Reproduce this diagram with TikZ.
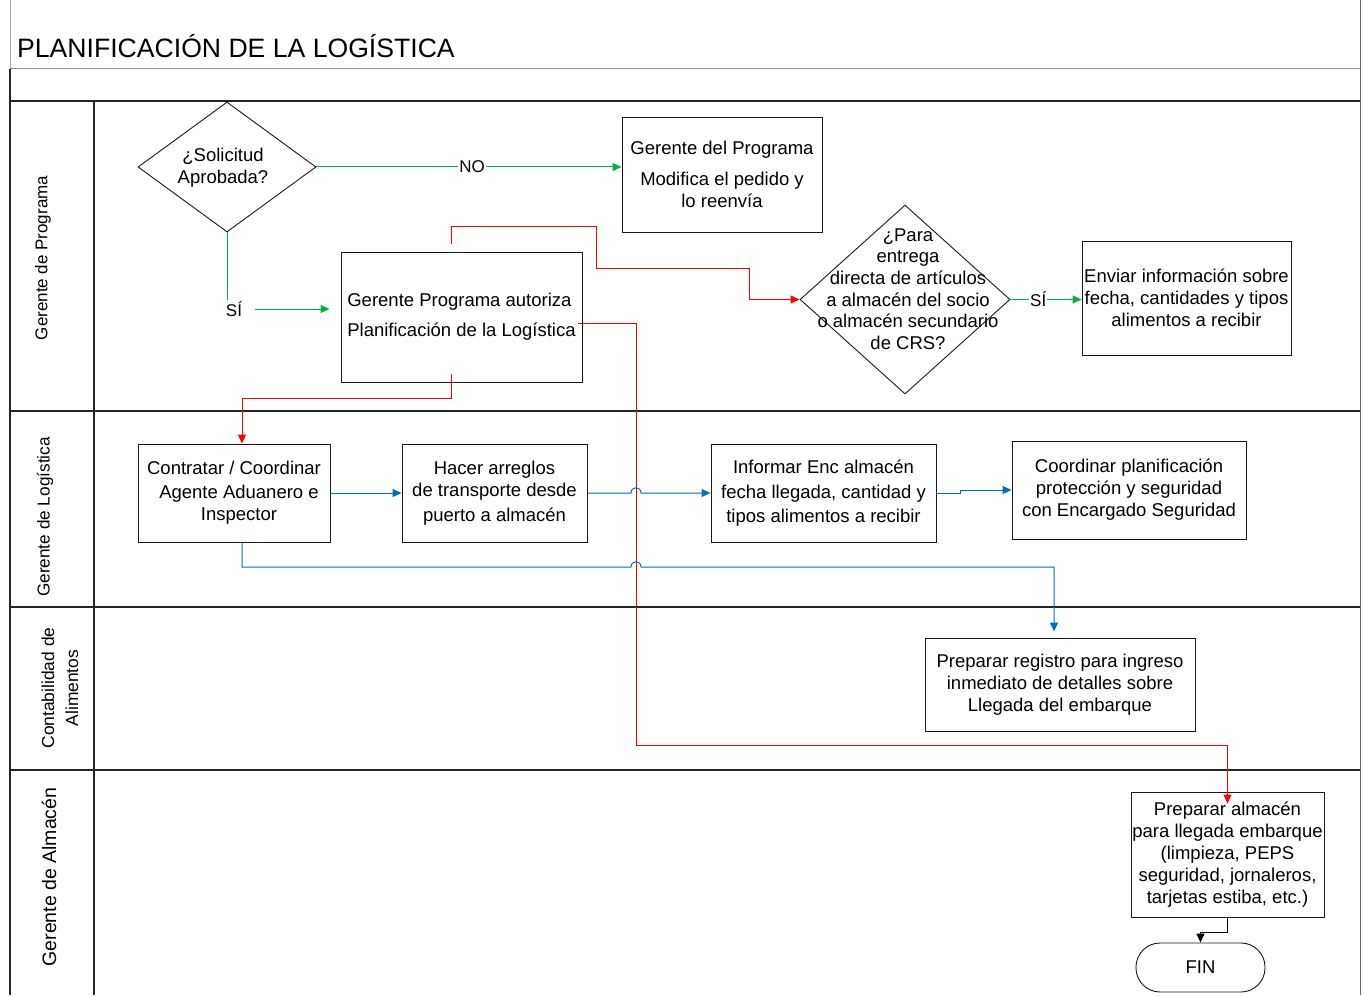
\documentclass[tikz,border=0pt]{standalone}
\usepackage{fontspec}
\setmainfont{Liberation Sans}
\usetikzlibrary{shapes.geometric,arrows.meta,calc}
\definecolor{fgreen}{RGB}{0,176,80}
\definecolor{fred}{RGB}{255,0,0}
\definecolor{fblue}{RGB}{0,112,192}
\newcommand{\bodyfont}{\fontsize{18.5}{22}\selectfont}
\begin{document}
\begin{tikzpicture}[x=1pt,y=-1pt,
  box/.style={draw=black!90, line width=0.9pt, inner sep=0pt, align=center, font=\bodyfont},
  dia/.style={draw=black!90, line width=0.9pt, shape=diamond, inner sep=0pt},
  txt/.style={inner sep=0pt, align=center, font=\bodyfont},
  lane/.style={inner sep=0pt, align=center, rotate=90},
  lbl/.style={fill=white, inner sep=1pt, font=\fontsize{17}{20}\selectfont},
  tip/.style={-{Triangle[length=9pt,width=8pt]}},
  gline/.style={draw=fgreen, line width=1pt, tip},
  rline/.style={draw=fred, line width=1pt, tip},
  bline/.style={draw=fblue, line width=1pt, tip},
  kline/.style={draw=black, line width=1pt, tip},
  sep/.style={draw=black!85, line width=1.2pt}]
\useasboundingbox (0,0) rectangle (1364,995);
% frame
\draw[draw=black!35, line width=0.8pt] (10,0) -- (10,69);
\draw[draw=black!60, line width=1pt] (1360,0) -- (1360,995);
\draw[draw=black!45, line width=1pt] (10,69) -- (1360,69);
\draw[sep] (10,101) -- (1360,101);
\draw[sep] (10,69) -- (10,995);
\draw[sep] (94,101) -- (94,995);
\draw[sep] (10,411) -- (1360,411);
\draw[sep] (10,607) -- (1360,607);
\draw[sep] (10,770) -- (1360,770);
% title
\node[anchor=base west, inner sep=0pt, font=\fontsize{26.6}{30}\selectfont] (title) at (17,58) {PLANIFICACIÓN DE LA LOGÍSTICA};
% lane labels
\node[lane, font=\fontsize{17}{20}\selectfont] (l1) at (43,258) {Gerente de Programa};
\node[lane, font=\fontsize{17.2}{20}\selectfont] (l2) at (45,517) {Gerente de Logística};
\node[lane, font=\fontsize{17.4}{24}\selectfont] (l3) at (60,688) {Contabilidad de\\Alimentos};
\node[lane, font=\fontsize{19.5}{22}\selectfont] (l4) at (49,877) {Gerente de Almacén};
% lane 1
\node[dia, minimum width=178pt, minimum height=130pt] (d1) at (227,167) {};
\node[txt] (d1t) at (223,168) {¿Solicitud\\ Aprobada?};
\node[box, minimum width=200pt, minimum height=115pt] (b1) at (722,174.5) {Gerente del Programa\\[9pt]Modifica el pedido y\\lo reenvía};
\node[box, align=left, minimum width=241pt, minimum height=130pt] (b2) at (461.5,317) {Gerente Programa autoriza\\[8pt]Planificación de la Logística};
\node[dia, minimum width=210pt, minimum height=189pt] (d2) at (905,299.5) {};
\node[txt, font=\fontsize{18.5}{21.6}\selectfont] (d2t) at (908,289) {¿Para\\entrega\\directa de artículos\\a almacén del socio\\o almacén secundario\\de CRS?};
\node[box, minimum width=209pt, minimum height=114pt] (b3) at (1186.5,298) {Enviar información sobre\\fecha, cantidades y tipos\\alimentos a recibir};
% lane 2
\node[box, minimum width=192pt, minimum height=98pt] (c1) at (234,493) {Contratar / Coordinar\hspace{12pt}\\[2pt]\hspace{10pt}Agente Aduanero e\\\hspace{10pt}Inspector};
\node[box, minimum width=185pt, minimum height=98pt] (c2) at (494.5,493) {Hacer arreglos\\de transporte desde\\[3pt]puerto a almacén};
\node[box, minimum width=225pt, minimum height=98pt] (c3) at (823.5,493) {Informar Enc almacén\\[3pt]fecha llegada, cantidad y\\[2pt]tipos alimentos a recibir};
\node[box, minimum width=234pt, minimum height=98pt] (c4) at (1129,490) {Coordinar planificación\\protección y seguridad\\con Encargado Seguridad};
% lane 3
\node[box, minimum width=270pt, minimum height=93pt] (e1) at (1060,684.5) {Preparar registro para ingreso\\inmediato de detalles sobre\\Llegada del embarque};
% lane 4
\node[box, minimum width=193pt, minimum height=125pt] (f1) at (1227.5,854.5) {Preparar almacén\\para llegada embarque\\(limpieza, PEPS\\seguridad, jornaleros,\\tarjetas estiba, etc.)};
\node[box, minimum width=129pt, minimum height=49pt, rounded corners=24pt] (fin) at (1200.5,967.5) {FIN};
% connectors
\draw[gline] (d1.east) -- node[lbl, pos=0.51]{NO} (d1.east -| b1.west);
\node[lbl] (si1) at (234,309) {SÍ};
\draw[draw=fgreen, line width=1pt] (d1.south) -- (d1.south |- si1.north);
\draw[gline, shorten <=12pt, shorten >=11pt] (si1.east) -- (si1.east -| b2.west);
\draw[rline, shorten <=8pt] ([xshift=-10.5pt]b2.north) |- (596,226) |- (749,268) |- (d2.west);
\draw[rline] ($(b2.south)+(-10.5,-8)$) |- (242,398) -- ($(c1.north)+(8,0)$);
\draw[rline] ($(b2.east)+(-4,6)$) -| (636,745) -| ($(f1.north)+(0,12)$);
\draw[gline] (d2.east) -- node[lbl, pos=0.39]{SÍ} (d2.east -| b3.west);
\draw[bline] (c1.east) -- (c2.west);
\draw[bline] (c2.east) -- (631,493) .. controls (631,486) and (641,486) .. (641,493) -- (c3.west);
\draw[bline] (c3.east) -- ++(24,0) |- (c4.west);
\draw[bline] ($(c1.south)+(8,0)$) |- (631,567) .. controls (631,560) and (641,560) .. (641,567) -| ($(e1.north)+(-6,-6)$);
\draw[kline] (f1.south) -- ++(0,15) -| (fin.north);
\end{tikzpicture}
\end{document}
